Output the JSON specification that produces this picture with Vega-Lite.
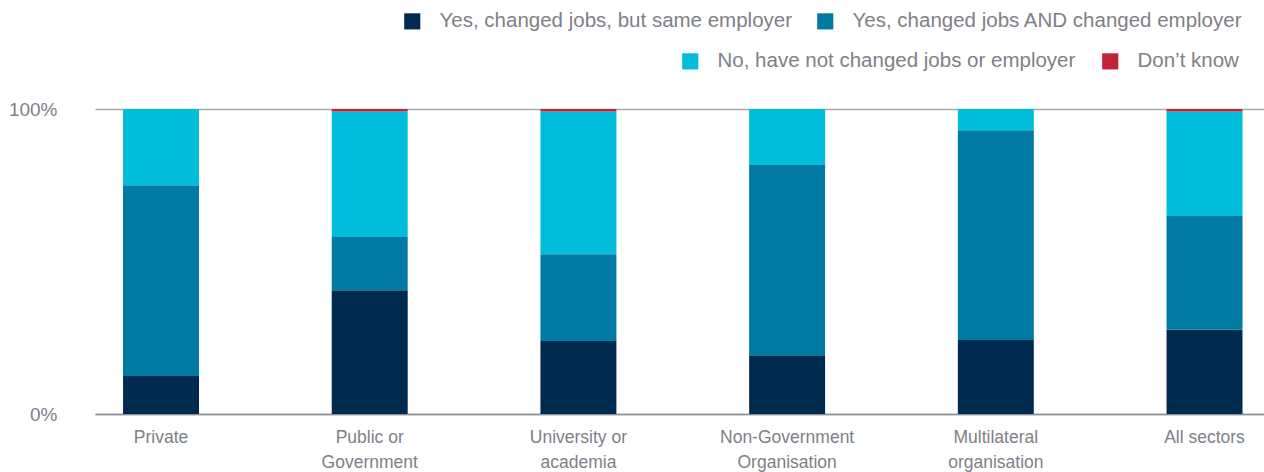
{
  "$schema": "https://vega.github.io/schema/vega-lite/v6.json",
  "autosize": {"type": "none"},
  "width": 1169,
  "height": 305,
  "padding": {"left": 95, "top": 109, "right": 0, "bottom": 58},
  "background": "white",
  "config": {
    "view": {"stroke": null},
    "font": "Liberation Sans",
    "axis": {"labelColor": "#808087", "labelFont": "Liberation Sans", "title": null}
  },
  "data": {
    "values": [
      {"sector": "Private", "response": "Yes, changed jobs, but same employer", "value": 12.5},
      {"sector": "Private", "response": "Yes, changed jobs AND changed employer", "value": 62.5},
      {"sector": "Private", "response": "No, have not changed jobs or employer", "value": 25.0},
      {"sector": "Private", "response": "Don’t know", "value": 0},
      {"sector": "Public or Government", "response": "Yes, changed jobs, but same employer", "value": 40.6},
      {"sector": "Public or Government", "response": "Yes, changed jobs AND changed employer", "value": 17.4},
      {"sector": "Public or Government", "response": "No, have not changed jobs or employer", "value": 41.2},
      {"sector": "Public or Government", "response": "Don’t know", "value": 0.8},
      {"sector": "University or academia", "response": "Yes, changed jobs, but same employer", "value": 23.9},
      {"sector": "University or academia", "response": "Yes, changed jobs AND changed employer", "value": 28.5},
      {"sector": "University or academia", "response": "No, have not changed jobs or employer", "value": 46.8},
      {"sector": "University or academia", "response": "Don’t know", "value": 0.8},
      {"sector": "Non-Government Organisation", "response": "Yes, changed jobs, but same employer", "value": 19.3},
      {"sector": "Non-Government Organisation", "response": "Yes, changed jobs AND changed employer", "value": 62.3},
      {"sector": "Non-Government Organisation", "response": "No, have not changed jobs or employer", "value": 18.4},
      {"sector": "Non-Government Organisation", "response": "Don’t know", "value": 0},
      {"sector": "Multilateral organisation", "response": "Yes, changed jobs, but same employer", "value": 24.3},
      {"sector": "Multilateral organisation", "response": "Yes, changed jobs AND changed employer", "value": 68.7},
      {"sector": "Multilateral organisation", "response": "No, have not changed jobs or employer", "value": 7.0},
      {"sector": "Multilateral organisation", "response": "Don’t know", "value": 0},
      {"sector": "All sectors", "response": "Yes, changed jobs, but same employer", "value": 27.6},
      {"sector": "All sectors", "response": "Yes, changed jobs AND changed employer", "value": 37.3},
      {"sector": "All sectors", "response": "No, have not changed jobs or employer", "value": 34.3},
      {"sector": "All sectors", "response": "Don’t know", "value": 0.8}
    ]
  },
  "transform": [
    {"stack": "value", "groupby": ["sector"], "sort": [{"field": "response", "order": "descending"}], "as": ["y0", "y1"]}
  ],
  "encoding": {
    "x": {
      "field": "sector", "type": "nominal", "sort": null,
      "scale": {"paddingInner": 0.636, "paddingOuter": 0.1187, "align": 0.566},
      "axis": {
        "labelAngle": 0, "ticks": false, "labelFontSize": 17.5, "labelPadding": 14,
        "labelBaseline": "top", "labelLineHeight": 25, "labelLimit": 300,
        "domainColor": "#8e8e93", "domainWidth": 1.5,
        "labelExpr": "datum.label == 'Public or Government' ? ['Public or','Government'] : datum.label == 'University or academia' ? ['University or','academia'] : datum.label == 'Non-Government Organisation' ? ['Non-Government','Organisation'] : datum.label == 'Multilateral organisation' ? ['Multilateral','organisation'] : datum.label"
      }
    },
    "y": {
      "field": "y0", "type": "quantitative",
      "scale": {"domain": [0, 100], "nice": false},
      "axis": {
        "values": [0, 100], "labelExpr": "datum.value + '%'", "domain": false, "ticks": false,
        "labelFontSize": 19, "labelPadding": 38, "grid": true, "gridColor": "#a8a8ad", "gridWidth": 1.5
      }
    },
    "y2": {"field": "y1"}
  },
  "layer": [
    {
      "transform": [{"filter": {"field": "response", "oneOf": ["Yes, changed jobs, but same employer", "Yes, changed jobs AND changed employer"]}}],
      "mark": {"type": "bar"},
      "encoding": {
        "color": {
          "field": "response", "type": "nominal",
          "scale": {"domain": ["Yes, changed jobs, but same employer", "Yes, changed jobs AND changed employer"], "range": ["#002a4e", "#0079a3"]},
          "legend": {
            "orient": "none", "legendX": 307, "legendY": -98, "direction": "horizontal", "title": null,
            "symbolType": "square", "symbolSize": 260, "symbolStrokeWidth": 0, "symbolOpacity": 1,
            "labelFontSize": 20.5, "labelColor": "#808087", "labelOffset": 17, "columnPadding": 22,
            "labelLimit": 500, "padding": 0
          }
        }
      }
    },
    {
      "transform": [{"filter": {"field": "response", "oneOf": ["No, have not changed jobs or employer", "Don’t know"]}}],
      "mark": {"type": "bar"},
      "encoding": {
        "color": {
          "field": "response", "type": "nominal",
          "scale": {"domain": ["No, have not changed jobs or employer", "Don’t know"], "range": ["#00bddc", "#be2337"]},
          "legend": {
            "orient": "none", "legendX": 585, "legendY": -58, "direction": "horizontal", "title": null,
            "symbolType": "square", "symbolSize": 260, "symbolStrokeWidth": 0, "symbolOpacity": 1,
            "labelFontSize": 20.5, "labelColor": "#808087", "labelOffset": 17, "columnPadding": 24,
            "labelLimit": 500, "padding": 0
          }
        }
      }
    }
  ],
  "resolve": {"scale": {"color": "independent"}}
}
